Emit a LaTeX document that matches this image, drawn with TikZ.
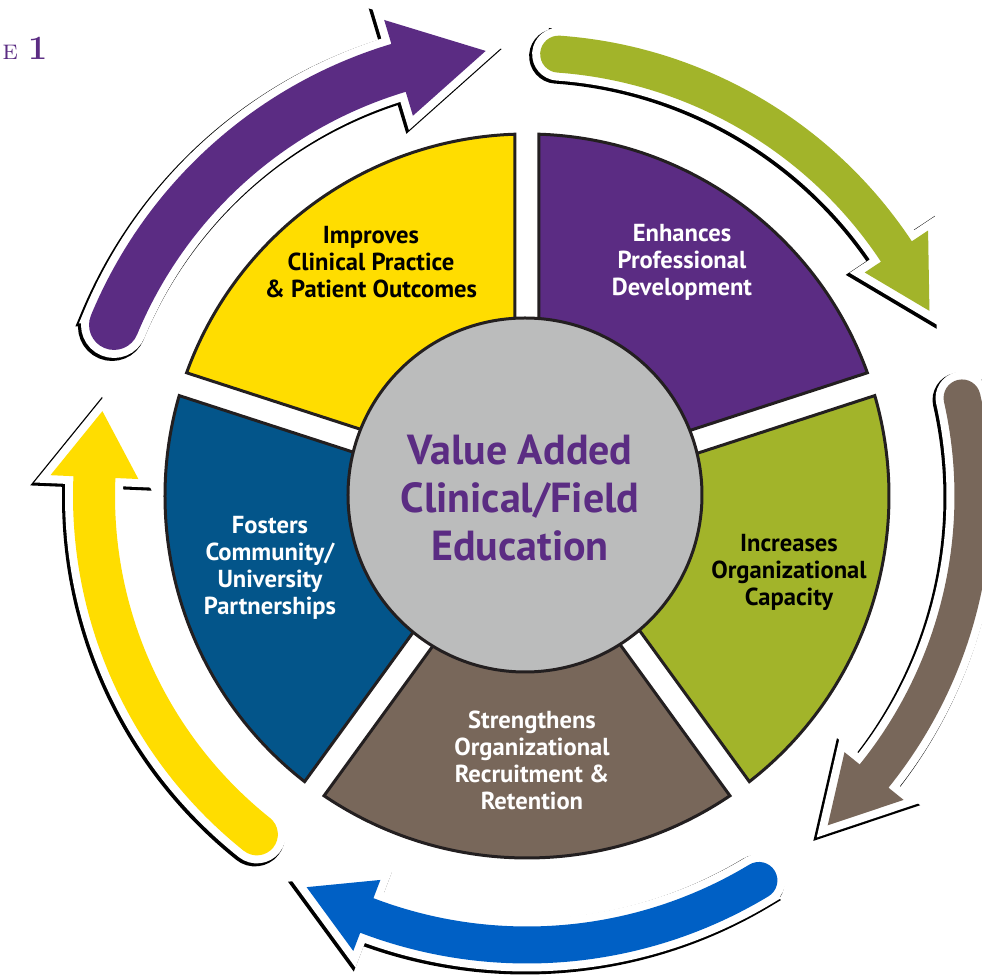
\documentclass[tikz,border=0pt]{standalone}
\usepackage{fontspec}
\usepackage{tikz}
\usetikzlibrary{positioning}
\newfontfamily\segfont{PT Sans}

\definecolor{segyellow}{RGB}{255,221,0}
\definecolor{segpurple}{RGB}{91,44,131}
\definecolor{seggreen}{RGB}{162,180,42}
\definecolor{segbrown}{RGB}{120,103,90}
\definecolor{segblue}{RGB}{3,85,138}
\definecolor{hubgray}{RGB}{187,188,188}
\definecolor{arrowblue}{RGB}{0,96,197}
\definecolor{edgeblack}{RGB}{35,31,32}

% ring arrow: radius, tail angle, head angle, tip angle, half width, head half width
\newcommand{\ringarrow}[6]{({#2}:{#1+#5}) arc[start angle={#2}, end angle={#3}, radius={#1+#5}]
  -- ({#3}:{#1+#6}) -- ({#4}:{#1}) -- ({#3}:{#1-#6}) -- ({#3}:{#1-#5})
  arc[start angle={#3}, end angle={#2}, radius={#1-#5}]
  arc[start angle={#2+180}, end angle={#2}, radius={#5}] -- cycle}

\begin{document}
\begin{tikzpicture}[x=0.5pt,y=0.5pt,
    segment/.style={draw=edgeblack, line width=1.5pt, line join=miter},
    arrowshadow/.style={draw=black, line width=9pt, line join=miter, shift={(-2,-2)}},
    arrowhalo/.style={draw=white, fill=white, line width=8pt, line join=miter},
    segtext/.style={align=center, font=\segfont\bfseries\fontsize{12.3}{13.5}\selectfont},
    hubtext/.style={align=center, text=segpurple, font=\segfont\bfseries\fontsize{21}{24}\selectfont}]
					\useasboundingbox (-527,-483) rectangle (455,496);

					% Outer arrows
					\foreach \col/\rad/\ta/\tb/\tc/\hw/\hh in {segpurple/447/157.5/106.7/95.3/25/50,
						seggreen/443/85.9/33.5/24.7/18.5/38,
						segbrown/446/12.7/-38.9/-47.6/18.5/38,
						arrowblue/449/-58.9/-110.9/-119.4/18.5/38,
						segyellow/433/231.4/177.5/168.7/21/44}{
						\draw[arrowshadow] \ringarrow{\rad}{\ta}{\tb}{\tc}{\hw}{\hh};
						\draw[arrowhalo] \ringarrow{\rad}{\ta}{\tb}{\tc}{\hw}{\hh};
						\fill[\col] \ringarrow{\rad}{\ta}{\tb}{\tc}{\hw}{\hh};
					}

					% Segments
					\foreach \a/\b/\col in {90/162/segyellow, 18/90/segpurple, -54/18/seggreen,
						-126/-54/segbrown, 162/234/segblue}
						\draw[segment, fill=\col] ({\a+1.9}:362) arc[start angle=\a+1.9, end angle=\b-1.9, radius=362]
							-- ({\b-4.17}:165) arc[start angle=\b-4.17, end angle=\a+4.17, radius=165] -- cycle;

					% Hub
					\draw[segment, fill=hubgray] (-2,1) circle[radius=177];
					\node[hubtext] (valueadded) at (-7,-2) {Value Added\\Clinical/Field\\Education};

					\node[segtext] (improves) at (-156,234) {Improves\\Clinical Practice\\\& Patient Outcomes};
					\node[segtext, text=white] (enhances) at (155,234) {Enhances\\Professional\\Development};
					\node[segtext] (increases) at (262,-76) {Increases\\Organizational\\Capacity};
					\node[segtext, text=white] (strengthens) at (5,-264) {Strengthens\\Organizational\\Recruitment \&\\Retention};
					\node[segtext, text=white] (fosters) at (-257,-72) {Fosters\\Community/\\University\\Partnerships};

					\node[anchor=base west, text=segpurple, inner sep=0pt] (figno) at (-525,436)
						{\fontsize{14}{16}\selectfont\textsc{e}\hspace{5pt}\fontsize{17}{18}\selectfont\textbf{1}};
				\end{tikzpicture}
\end{document}
